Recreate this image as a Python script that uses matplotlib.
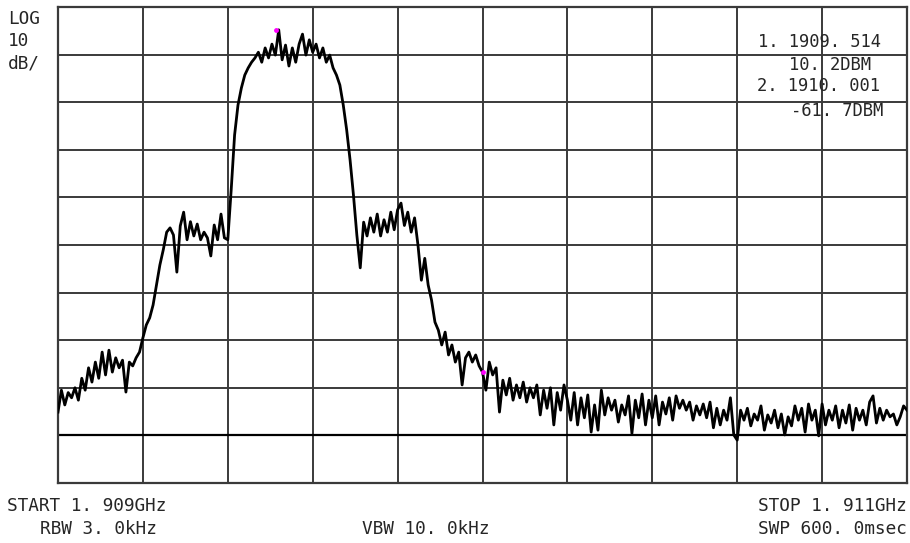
import matplotlib.pyplot as plt
import numpy as np

# sweep settings (MHz, dBm)
start_mhz = 1909.0
stop_mhz = 1911.0
ref_level = 15.0
db_per_div = 10

# trace levels in dBm, 251 sweep points
trace_dbm = [
    -70.1, -65.5, -68.6, -66.0, -67.1, -65.0, -67.6, -63.0, -65.5, -60.8,
    -63.8, -59.6, -63.0, -57.5, -62.3, -57.1, -61.7, -58.7, -60.8, -59.2,
    -65.9, -59.6, -60.4, -58.7, -57.5,
    -54.5, -51.8, -50.3, -47.6, -43.4, -39.2, -36.0, -32.3, -31.4, -32.9,
    -40.7, -31.0, -28.1, -33.9, -30.1, -33.1, -30.6, -33.9, -32.3, -33.5,
    -37.3, -30.8, -33.9, -28.5, -33.5,
    -33.9, -23.4, -11.9, -5.6, -2.0, 0.7, 2.2, 3.4, 4.3, 5.5,
    3.4, 6.4, 4.3, 7.2, 4.9, 10.2, 3.9, 7.0, 2.6, 6.4,
    3.4, 7.2, 9.3, 4.9, 8.1,
    5.5, 7.2, 4.3, 6.4, 3.4, 4.9, 2.2, 0.7, -1.4, -5.6,
    -10.8, -17.1, -24.5, -32.9, -39.8, -30.2, -33.1, -29.3, -32.3, -28.5,
    -33.1, -29.7, -32.3, -28.1, -31.8,
    -27.6, -26.2, -30.9, -28.1, -32.3, -29.3, -35.0, -42.4, -37.8, -43.4,
    -46.6, -51.2, -52.9, -56.0, -53.3, -58.1, -56.0, -59.6, -57.5, -64.4,
    -58.7, -57.5, -59.6, -58.1, -60.4,
    -61.7, -65.5, -59.6, -62.3, -60.8, -70.1, -63.4, -66.5, -63.0, -67.6,
    -64.4, -67.1, -63.8, -68.0, -65.0, -67.1, -64.4, -70.7, -65.5, -69.3,
    -65.0, -72.8, -66.0, -69.7, -64.4,
    -67.6, -71.8, -66.0, -72.8, -67.1, -71.3, -66.5, -74.3, -68.6, -73.9,
    -65.5, -70.7, -67.1, -69.7, -67.6, -72.2, -68.6, -70.7, -66.7, -74.6,
    -67.6, -71.3, -66.3, -72.8, -67.6,
    -71.3, -66.7, -72.8, -68.0, -70.5, -67.1, -71.8, -66.7, -69.3, -67.6,
    -69.7, -68.0, -71.8, -68.8, -70.7, -68.4, -71.3, -68.0, -73.4, -69.3,
    -72.8, -69.7, -71.8, -67.1, -74.9,
    -76.0, -69.7, -71.8, -69.3, -73.0, -70.5, -71.8, -68.8, -73.9, -70.7,
    -72.4, -69.7, -73.4, -70.5, -74.9, -71.1, -73.0, -68.8, -71.8, -69.3,
    -74.3, -68.4, -71.8, -69.7, -75.1,
    -68.4, -72.8, -69.7, -71.8, -68.8, -73.4, -69.7, -72.4, -68.6, -73.9,
    -69.3, -71.8, -69.7, -72.8, -68.0, -66.7, -72.4, -69.3, -71.8, -69.7,
    -71.1, -70.5, -72.8, -71.1, -68.8, -69.7,
]

# markers
marker_freq = [1909.514, 1910.001]
marker_dbm = [10.2, -61.7]
display_line = -75.0

freq = np.linspace(start_mhz, stop_mhz, len(trace_dbm))
bottom = ref_level - 10 * db_per_div

fig = plt.figure(figsize=(9.1, 5.43), dpi=100)
ax = fig.add_axes([58 / 910, 1 - 483 / 543, 849 / 910, 476 / 543])
ax.set_xlim(start_mhz, stop_mhz)
ax.set_ylim(bottom, ref_level)

ax.set_xticks(np.linspace(start_mhz, stop_mhz, 11))
ax.set_yticks(np.linspace(bottom, ref_level, 11))
ax.grid(True, color='#3a3a3a', linewidth=1.4)
ax.tick_params(length=0, labelbottom=False, labelleft=False)
for s in ax.spines.values():
    s.set_color('#3a3a3a')
    s.set_linewidth(1.6)

ax.axhline(display_line, color='black', linewidth=1.6, zorder=2)
ax.plot(freq, trace_dbm, color='black', linewidth=2.0, zorder=3)
ax.plot(marker_freq, marker_dbm, 'o', color='#ff00ff', markersize=3.5,
        markeredgewidth=0, zorder=4)

mono = 'DejaVu Sans Mono'
tc = '#262626'
fs = 12.8
fm = 12.3

# top-left scale label
fig.text(8 / 910, 1 - 19 / 543, 'LOG', family=mono, fontsize=fs, color=tc, va='center')
fig.text(8 / 910, 1 - 41 / 543, '10', family=mono, fontsize=fs, color=tc, va='center')
fig.text(8 / 910, 1 - 64 / 543, 'dB/', family=mono, fontsize=fs, color=tc, va='center')

# marker readout
fig.text(881 / 910, 1 - 42 / 543, '1. 1909. 514', family=mono, fontsize=fm, color=tc,
         va='center', ha='right')
fig.text(871 / 910, 1 - 65 / 543, '10. 2DBM', family=mono, fontsize=fm, color=tc,
         va='center', ha='right')
fig.text(880 / 910, 1 - 86 / 543, '2. 1910. 001', family=mono, fontsize=fm, color=tc,
         va='center', ha='right')
fig.text(883 / 910, 1 - 111 / 543, '-61. 7DBM', family=mono, fontsize=fm, color=tc,
         va='center', ha='right')

# bottom annotations
fig.text(7 / 910, 1 - 506 / 543, 'START 1. 909GHz', family=mono, fontsize=fs, color=tc, va='center')
fig.text(40 / 910, 1 - 529 / 543, 'RBW 3. 0kHz', family=mono, fontsize=fs, color=tc, va='center')
fig.text(362 / 910, 1 - 529 / 543, 'VBW 10. 0kHz', family=mono, fontsize=fs, color=tc, va='center')
fig.text(907 / 910, 1 - 506 / 543, 'STOP 1. 911GHz', family=mono, fontsize=fs, color=tc,
         va='center', ha='right')
fig.text(907 / 910, 1 - 529 / 543, 'SWP 600. 0msec', family=mono, fontsize=fs, color=tc,
         va='center', ha='right')

fig.savefig('out.png', dpi=100)
